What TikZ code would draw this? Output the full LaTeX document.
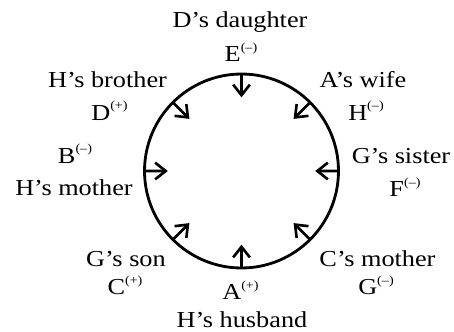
\documentclass[tikz,border=0pt]{standalone}
\usepackage{fontspec}
\setmainfont[FakeStretch=1.15]{Liberation Serif}
\usetikzlibrary{arrows.meta, positioning, calc}

\newcommand{\sgn}[1]{\raisebox{0.48em}{\fontsize{7}{8}\selectfont(#1)}}

\begin{document}
\begin{tikzpicture}[
  x=0.02cm, y=0.02cm,
  lbl/.style={font=\fontsize{13}{15}\selectfont, inner sep=0pt, anchor=base},
  seat/.style={draw, circle, line width=1.6pt, minimum size=3.88cm,
               inner sep=0pt, outer sep=0pt},
  arr/.style={-{Straight Barb[length=6pt,width=9.5pt]}, line width=1.5pt}
]
  \useasboundingbox (0,0) rectangle (454,332);
  \node[seat] (table) at (241.5,161) {};

  % people round the table, all facing the centre
  \node[lbl] (relE) at (240,304) {D’s daughter};
  \node[lbl] (E) at (241,270) {E\sgn{–}};
  \node[lbl] (relD) at (107.5,244) {H’s brother};
  \node[lbl] (D) at (109.5,212) {D\sgn{+}};
  \node[lbl] (relH) at (363,244) {A’s wife};
  \node[lbl] (H) at (366,212) {H\sgn{–}};
  \node[lbl] (B) at (75,169) {B\sgn{–}};
  \node[lbl] (relB) at (74,136) {H’s mother};
  \node[lbl] (relF) at (401,169) {G’s sister};
  \node[lbl] (F) at (405,135) {F\sgn{–}};
  \node[lbl] (relC) at (126,66) {G’s son};
  \node[lbl] (C) at (125,37) {C\sgn{+}};
  \node[lbl] (relG) at (377.5,66) {C’s mother};
  \node[lbl] (G) at (376,37) {G\sgn{–}};
  \node[lbl] (A) at (240.5,32) {A\sgn{+}};
  \node[lbl] (relA) at (242,5) {H’s husband};

  \foreach \ang in {90,45,0,-45,-90,-135,180,135}
    \draw[arr] (table.\ang) -- ($(table.\ang)!0.24!(table.center)$);
\end{tikzpicture}
\end{document}
